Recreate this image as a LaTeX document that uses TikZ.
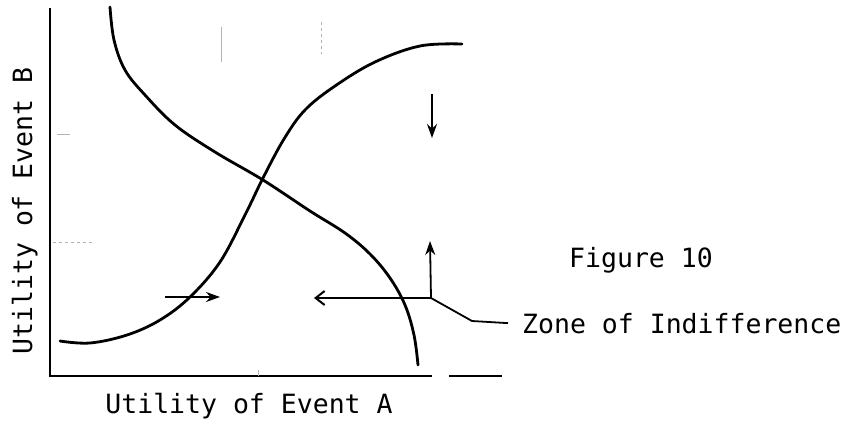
\documentclass[tikz,border=0pt]{standalone}
\usepackage{fontspec}
\setmonofont{DejaVu Sans Mono}
\usetikzlibrary{arrows.meta, positioning}

\begin{document}
\begin{tikzpicture}[
    x=1pt, y=-1pt,
    axis/.style={line width=2.6pt, draw=black},
    curve/.style={line width=2.8pt, draw=black, line cap=round},
    arrow/.style={-{Stealth[length=14pt, width=10pt]}, line width=1.8pt},
    openarrow/.style={-{Straight Barb[length=9pt, width=14pt, line width=2pt]}, line width=1.8pt},
    leader/.style={line width=1.8pt},
    txt/.style={font=\ttfamily\fontsize{26.5}{30}\selectfont, inner sep=0pt, anchor=base},
    faint/.style={draw=black!30, line width=0.8pt}
]
\useasboundingbox (0,0) rectangle (858,421);

% Axes
\coordinate (origin) at (50,376);
\coordinate (ytop) at (50,8);
\coordinate (xend) at (432,376);
\draw [axis] (ytop) -- (origin) -- (xend);
\draw [axis] (449,376) -- (502,376);

% faint guide marks
\draw [faint] (221,27) -- (221,62);
\draw [faint, dashed] (321,22) -- (321,54);
\draw [faint] (57,134) -- (70,134);
\draw [faint, dashed] (53,242) -- (95,242);
\draw [faint] (258,370) -- (258,376);

% Curves
\draw [curve] plot[smooth, tension=0.6] coordinates {(110,7) (114,40) (125,70) (145,95) (175,125) (215,152) (263,180) (310,211) (345,233) (370,254) (390,278) (405,305) (414,335) (418,365)};
\draw [curve] plot[smooth, tension=0.6] coordinates {(60,341) (90,343) (127,335) (160,320) (190,297) (220,262) (245,215) (263,178) (284,139) (305,110) (335,86) (375,62) (420,46) (462,44)};

% Nodes
\node (ylab) [txt, rotate=90] at (32,211) {Utility of Event B};
\node (xlab) [txt] at (249,413) {Utility of Event A};
\node (fig) [txt] at (641,267) {Figure 10};
\node (zone) [txt, anchor=base west] at (522,333) {Zone of Indifference};

% Arrows
\coordinate (jct) at (431,298);
\coordinate (bend) at (472,321);
\coordinate (lefttip) at (314,298);
\coordinate (uptip) at (430,241);
\coordinate (downstart) at (432,94);
\coordinate (downtip) at (432,138);
\coordinate (rstart) at (165,297);
\coordinate (rtip) at (220,297);
\draw [openarrow] (jct) -- (lefttip);
\draw [arrow] (jct) -- (uptip);
\draw [arrow] (downstart) -- (downtip);
\draw [arrow] (rstart) -- (rtip);
\draw [leader] (jct) -- (bend) -- ([xshift=-14pt]zone.west);

\end{tikzpicture}
\end{document}
